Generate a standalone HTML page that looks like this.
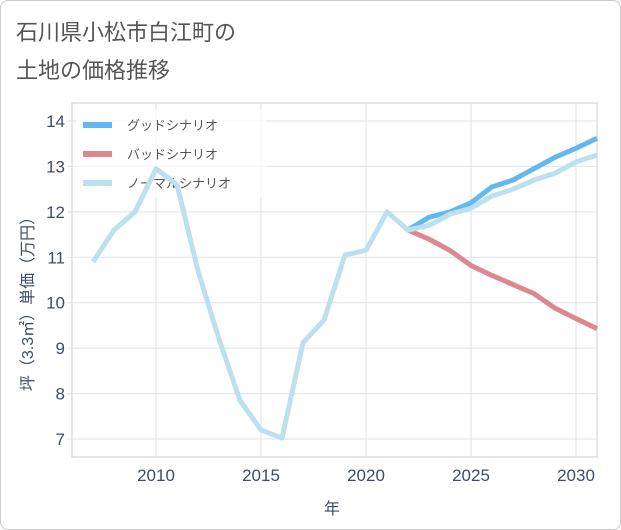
<!DOCTYPE html>
<html><head><meta charset="utf-8"><style>
body{margin:0;background:#fff;font-family:"Liberation Sans","Noto Sans CJK JP",sans-serif;}
.wrap{position:absolute;left:0;top:0;width:619px;height:528px;border:1px solid #ccc;border-radius:8px;}
</style></head><body>
<div class="wrap"></div>
<svg id="c" width="621" height="530" style="position:absolute;left:0;top:0">
<text x="16" y="40" font-size="22" fill="#555">石川県小松市白江町の</text>
<text x="16" y="78" font-size="22" fill="#555">土地の価格推移</text>
<g id="grid"></g><g id="legend"></g><g id="series"></g>
<text x="332" y="514" font-size="16" fill="#3d4d66" text-anchor="middle">年</text>
<text transform="translate(33,300) rotate(-90)" font-size="16" fill="#3d4d66" text-anchor="middle">坪（3.3㎡）単価（万円）</text>
</svg>
<script>
const years=[2007,2008,2009,2010,2011,2012,2013,2014,2015,2016,2017,2018,2019,2020,2021,2022,2023,2024,2025,2026,2027,2028,2029,2030,2031];
const normal=[10.9,11.6,12.0,12.95,12.6,10.7,9.2,7.85,7.2,7.02,9.12,9.62,11.05,11.15,12.0,11.6,11.7,11.95,12.08,12.35,12.5,12.7,12.85,13.1,13.25];
const futureYears=[2022,2023,2024,2025,2026,2027,2028,2029,2030,2031];
const good=[11.6,11.88,12.0,12.2,12.55,12.7,12.95,13.2,13.4,13.62];
const bad=[11.6,11.4,11.15,10.82,10.6,10.4,10.2,9.88,9.65,9.43];
const xTicks=[2010,2015,2020,2025,2030];
const yTicks=[7,8,9,10,11,12,13,14];
const X0=72,X1=597,Y0=103,Y1=457;
const x=v=>156+(v-2010)*21;
const y=v=>121+(14-v)*45.43;
const NS='http://www.w3.org/2000/svg';
function mk(t,p,a){const e=document.createElementNS(NS,t);for(const k in a)e.setAttribute(k,a[k]);p.appendChild(e);return e;}
const g=document.getElementById('grid');
const frame=mk('rect',g,{x:X0,y:Y0,width:X1-X0,height:Y1-Y0,fill:'none',stroke:'#ccc'});


xTicks.forEach(t=>{
 const l=mk('line',g,{x1:x(t),x2:x(t),y1:Y0,y2:Y1,stroke:'#dde3ea'});
 
 
 const tx=mk('text',g,{x:x(t),y:Y1+24,'font-size':17,fill:'#3d4d66','text-anchor':'middle'});tx.textContent=t;
 
 
});
yTicks.forEach(t=>{
 const l=mk('line',g,{x1:X0-5,x2:X1,y1:y(t),y2:y(t),stroke:'#dde3ea'});
 
 
 const tx=mk('text',g,{x:X0-7,y:y(t)+6,'font-size':17,fill:'#3d4d66','text-anchor':'end'});tx.textContent=t;
 
 
});
const s=document.getElementById('series');
function line(xs,vs,col,name){
 const p=mk('polyline',s,{points:xs.map((yr,i)=>x(yr)+','+y(vs[i])).join(' '),fill:'none',stroke:col,'stroke-width':5,'stroke-linejoin':'round'});
 
 
}
line(futureYears,bad,'#dd8890','bad-scenario-line');
line(futureYears,good,'#63b8f0','good-scenario-line');
line(years,normal,'#bde0ee','normal-scenario-line');
const lg=document.getElementById('legend');
const bg=mk('rect',lg,{x:76,y:110,width:190,height:88,fill:'#fff','fill-opacity':0.6});


[['グッドシナリオ','#63b8f0'],['バッドシナリオ','#dd8890'],['ノーマルシナリオ','#bde0ee']].forEach((d,i)=>{
 const yy=125+i*29;
 const r=mk('rect',lg,{x:83,y:yy-3,width:29,height:6,fill:d[1]});
 
 
 const t=mk('text',lg,{x:127,y:yy+5,'font-size':13,fill:'#555'});t.textContent=d[0];
 
 
});
</script>
</body></html>
